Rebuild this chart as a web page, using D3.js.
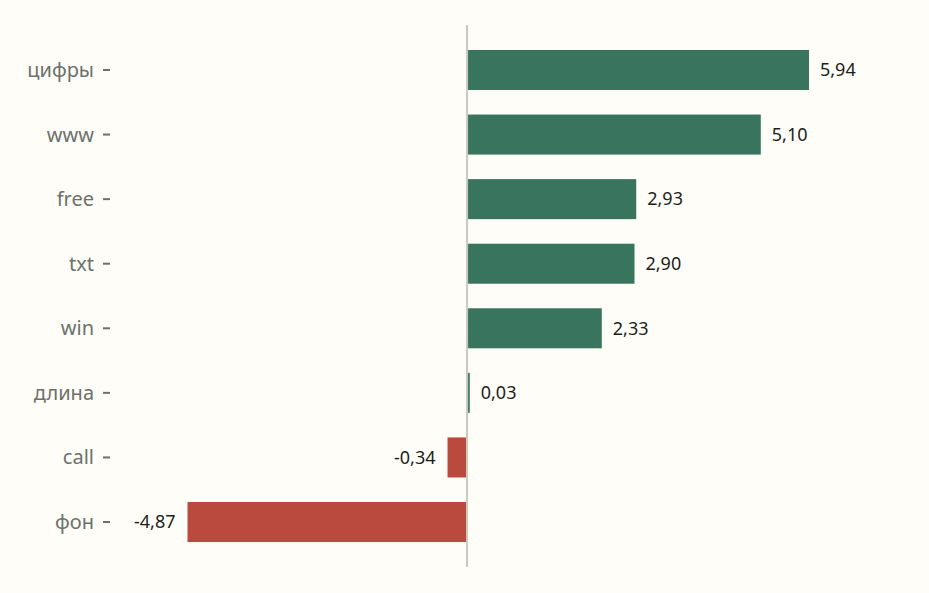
<!DOCTYPE html>
<meta charset="utf-8">
<style>
body { margin: 0; background: #fefdf8; }
svg { background-color: #fefdf8; display: block; }
.axis text { font: 20px "Noto Sans", sans-serif; fill: #6d716b; }
.axis line { stroke: #6d716b; stroke-width: 2; }
.axis path { display: none; }
.val { font: 18px "Noto Sans", sans-serif; fill: #1d1d1b; }
</style>
<svg width="929" height="593"></svg>
<script src="https://d3js.org/d3.v7.min.js"></script>
<script>

var categories = ["цифры", "www", "free", "txt", "win", "длина", "call", "фон"];
var values = [5.94, 5.10, 2.93, 2.90, 2.33, 0.03, -0.34, -4.87];
var valueLabels = ["5,94", "5,10", "2,93", "2,90", "2,33", "0,03", "-0,34", "-4,87"];

var data = categories.map(function(c, i) {
  return {name: c, value: values[i], label: valueLabels[i]};
});

var svg = d3.select("svg");

var x = d3.scaleLinear()
    .domain([-4.87, 5.94])
    .range([187.5, 808]);

var y = d3.scaleBand()
    .domain(categories)
    .range([37.7, 554.3])
    .paddingInner(0.38)
    .paddingOuter(0.19);

// y axis on the left, only ticks + labels
svg.append("g")
    .attr("class", "axis")
    .attr("transform", "translate(110,0)")
    .call(d3.axisLeft(y).tickSize(7).tickPadding(9))
    .selectAll("text")
    .attr("dy", "0.35em");

svg.append("g")
  .selectAll("rect")
  .data(data)
  .enter().append("rect")
    .attr("x", function(d) { return d.value >= 0 ? x(0) + 1 : x(d.value); })
    .attr("y", function(d) { return y(d.name); })
    .attr("width", function(d) { return Math.max(1, Math.abs(x(d.value) - x(0)) - (d.value >= 0 ? 0 : 1)); })
    .attr("height", y.bandwidth())
    .style("fill", function(d) { return d.value >= 0 ? "#38745e" : "#b94a3d"; });

// zero line
svg.append("line")
    .attr("x1", x(0)).attr("x2", x(0))
    .attr("y1", 25).attr("y2", 567)
    .style("stroke", "#c9c9c0")
    .style("stroke-width", 2);

svg.append("g")
  .selectAll("text")
  .data(data)
  .enter().append("text")
    .attr("class", "val")
    .attr("x", function(d) { return d.value >= 0 ? x(d.value) + 12 : x(d.value) - 12; })
    .attr("y", function(d) { return y(d.name) + y.bandwidth() / 2; })
    .attr("dy", "0.35em")
    .attr("text-anchor", function(d) { return d.value >= 0 ? "start" : "end"; })
    .text(function(d) { return d.label; });

</script>
